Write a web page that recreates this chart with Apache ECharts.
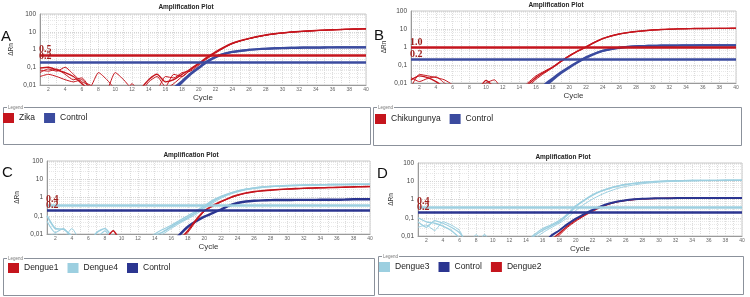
<!DOCTYPE html>
<html>
<head>
<meta charset="UTF-8">
<title>Amplification Plot</title>
<script src="https://cdn.jsdelivr.net/npm/echarts@6/dist/echarts.min.js"></script>
<style>
    html,body{padding:0; margin:0; background:#fff;}
    #main{width:750px; height:297px;}
</style>
</head>
<body>
<div id="main"></div>
<script type="text/javascript">
    // cycle numbers on the x axis
    var cycles = [1,2,3,4,5,6,7,8,9,10,11,12,13,14,15,16,17,18,19,20,
                  21,22,23,24,25,26,27,28,29,30,31,32,33,34,35,36,37,38,39,40];

    // ---- A : Zika ----
    var zikaA1 = [0.09,0.1,0.07,0.05,0.03,0.012,0.005,0.004,0.003,0.004,0.005,0.004,0.006,0.02,0.04,0.015,0.02,0.04,0.08,0.17,
                  0.37,0.74,1.35,2.25,3.2,4.2,5.4,6.6,7.7,8.7,9.6,10.4,11.1,11.8,12.4,13,13.5,14,14.4,14.8];
    var zikaA2 = [0.07,0.06,0.08,0.04,0.02,0.025,0.008,0.05,0.02,0.006,0.004,0.003,0.005,0.008,0.006,0.03,0.025,0.05,0.06,0.13,
                  0.3,0.62,1.2,2.1,3.0,4.0,5.1,6.3,7.4,8.4,9.3,10.1,10.8,11.5,12.1,12.7,13.2,13.7,14.1,14.5];
    var zikaA3 = [0.05,0.08,0.06,0.1,0.04,0.015,0.01,0.004,0.005,0.05,0.02,0.006,0.004,0.015,0.03,0.008,0.04,0.03,0.07,0.15,
                  0.33,0.68,1.28,2.2,3.1,4.1,5.3,6.5,7.6,8.6,9.5,10.3,11,11.7,12.3,12.9,13.4,13.9,14.3,14.7];
    var zikaA4 = [0.03,0.04,0.03,0.02,0.015,0.02,0.006,0.003,0.004,0.003,0.002,0.012,0.004,0.006,0.005,0.006,0.012,0.03,0.07,0.16,
                  0.35,0.7,1.3,2.2,3.1,4.1,5.2,6.4,7.5,8.5,9.4,10.2,10.9,11.6,12.2,12.8,13.3,13.8,14.2,14.6];
    var controlA1 = [null,null,null,null,null,null,null,null,null,null,null,null,null,null,null,0.003,0.007,0.017,0.045,0.1,
                  0.22,0.4,0.58,0.74,0.86,0.97,1.05,1.12,1.18,1.22,1.25,1.28,1.3,1.31,1.32,1.33,1.34,1.35,1.35,1.36];
    var controlA2 = [null,null,null,null,null,null,null,null,null,null,null,null,null,null,null,0.002,0.005,0.014,0.04,0.09,
                  0.2,0.37,0.55,0.72,0.84,0.95,1.03,1.1,1.15,1.19,1.22,1.25,1.27,1.28,1.29,1.3,1.31,1.32,1.32,1.33];
    var thresholdA = [0.5, 0.2];
    var thresholdTextA = ['0.5', '0.2'];

    // ---- B : Chikungunya ----
    var chikB1 = [0.015,0.025,0.02,0.012,0.006,0.004,0.003,0.002,0.004,0.014,0.006,0.003,0.002,0.003,0.008,0.02,0.04,0.075,0.16,0.32,
                  0.6,1.0,1.8,2.9,4.1,5.3,6.3,7.2,8.0,8.8,9.3,9.7,10.1,10.4,10.6,10.7,10.8,10.9,10.9,11.0];
    var chikB2 = [0.006,0.03,0.025,0.02,0.015,0.008,0.004,0.003,0.003,0.008,0.004,0.003,0.003,0.004,0.006,0.016,0.035,0.07,0.15,0.3,
                  0.56,0.95,1.7,2.8,4.0,5.2,6.2,7.1,7.9,8.7,9.2,9.6,10,10.3,10.5,10.6,10.7,10.8,10.8,10.9];
    var chikB3 = [0.02,0.012,0.018,0.022,0.01,0.005,0.003,0.003,0.005,0.01,0.015,0.004,0.003,0.004,0.01,0.025,0.045,0.08,0.17,0.34,
                  0.62,1.05,1.85,3.0,4.2,5.4,6.4,7.3,8.1,8.9,9.4,9.8,10.2,10.5,10.7,10.8,10.9,11,11,11.1];
    var controlB1 = [null,null,null,null,null,null,null,null,null,null,null,null,null,null,null,0.003,0.008,0.018,0.04,0.08,
                  0.15,0.27,0.43,0.62,0.78,0.92,1.02,1.1,1.15,1.18,1.2,1.21,1.22,1.23,1.23,1.24,1.24,1.25,1.25,1.25];
    var controlB2 = [null,null,null,null,null,null,null,null,null,null,null,null,null,null,null,0.002,0.006,0.015,0.035,0.072,
                  0.14,0.25,0.41,0.6,0.76,0.9,1.0,1.08,1.13,1.16,1.18,1.2,1.21,1.22,1.22,1.23,1.23,1.24,1.24,1.24];
    var thresholdB = [1.0, 0.2];
    var thresholdTextB = ['1.0', '0.2'];

    // ---- C : Dengue1 / Dengue4 ----
    var d1C1 = [null,null,null,null,null,null,null,0.004,0.015,0.004,null,null,null,null,null,0.002,0.005,0.015,0.06,0.19,
                0.36,0.6,0.95,1.35,1.75,2.1,2.35,2.55,2.75,2.9,3.05,3.2,3.3,3.4,3.5,3.6,3.7,3.8,3.9,4.0];
    var d1C2 = [null,null,null,null,null,null,null,null,null,null,null,null,null,null,null,0.002,0.004,0.012,0.05,0.17,
                0.33,0.56,0.9,1.3,1.7,2.05,2.3,2.5,2.7,2.85,3.0,3.15,3.25,3.35,3.45,3.55,3.65,3.75,3.85,3.95];
    var d4C1 = [0.1,0.02,0.018,0.008,0.004,0.003,0.012,0.02,0.006,0.003,0.002,0.003,0.004,0.008,0.013,0.025,0.045,0.08,0.15,0.3,
                0.6,1.05,1.6,2.2,2.8,3.3,3.7,4.0,4.25,4.45,4.6,4.75,4.85,4.95,5.05,5.1,5.2,5.25,5.3,5.4];
    var d4C2 = [0.05,0.012,0.02,0.006,0.003,0.002,0.006,0.015,0.004,0.002,0.003,0.003,0.005,0.01,0.018,0.03,0.055,0.1,0.18,0.36,
                0.7,1.15,1.7,2.3,2.9,3.4,3.8,4.1,4.35,4.55,4.7,4.85,4.95,5.05,5.15,5.2,5.3,5.35,5.4,5.5];
    var d4C3 = [0.008,0.01,0.006,0.02,0.004,0.002,0.003,0.004,0.003,0.002,0.002,0.003,0.004,0.006,0.01,0.02,0.038,0.068,0.12,0.25,
                0.5,0.9,1.45,2.0,2.6,3.1,3.5,3.85,4.1,4.3,4.45,4.6,4.7,4.8,4.9,4.95,5.0,5.05,5.1,5.2];
    var controlC = [null,null,null,null,null,null,null,null,null,null,null,null,null,null,null,0.003,0.009,0.025,0.05,0.09,
                0.14,0.22,0.36,0.5,0.6,0.66,0.7,0.72,0.73,0.73,0.74,0.74,0.74,0.75,0.75,0.75,0.77,0.8,0.8,0.8];
    var thresholdC = [0.4, 0.2];
    var thresholdTextC = ['0.4', '0.2'];

    // ---- D : Dengue3 / Dengue2 ----
    var d3D1 = [0.1,0.06,0.05,0.035,0.02,0.008,0.003,0.003,0.003,0.002,0.002,0.003,0.003,0.004,0.01,0.02,0.035,0.06,0.14,0.42,
                0.9,1.7,2.8,4.0,5.3,6.6,7.6,8.5,9.3,9.9,10.3,10.6,10.8,11.0,11.1,11.2,11.2,11.3,11.3,11.4];
    var d3D2 = [0.06,0.03,0.07,0.05,0.03,0.015,0.004,0.003,0.012,0.003,0.002,0.002,0.003,0.005,0.012,0.025,0.04,0.07,0.16,0.45,
                0.95,1.8,2.9,4.1,5.4,6.7,7.7,8.6,9.4,10,10.4,10.7,10.9,11.1,11.2,11.3,11.3,11.4,11.4,11.5];
    var d3D3 = [0.03,0.04,0.02,0.06,0.04,0.02,0.003,0.012,0.003,0.002,0.002,0.003,0.003,0.004,0.007,0.015,0.028,0.05,0.1,0.25,
                0.55,1.05,1.8,2.8,4.0,5.2,6.3,7.3,8.2,8.9,9.5,9.9,10.2,10.4,10.6,10.7,10.8,10.9,11,11];
    var controlD = [null,null,null,null,null,null,null,null,null,null,null,null,null,null,null,0.003,0.01,0.02,0.045,0.09,
                0.16,0.27,0.42,0.6,0.78,0.92,1.02,1.1,1.14,1.17,1.18,1.19,1.2,1.2,1.21,1.21,1.22,1.22,1.22,1.22];
    var d2D1 = [null,null,null,null,null,null,null,null,null,null,null,null,null,null,null,0.002,0.006,0.014,0.035,0.075,
                0.14,0.25,0.4,0.58,0.76,0.9,1.0,1.08,1.12,1.15,1.16,1.17,1.18,1.18,1.19,1.19,1.2,1.2,1.2,1.2];
    var d2D2 = [null,null,null,null,null,null,null,null,null,null,null,null,null,null,null,0.002,0.004,0.011,0.03,0.065,
                0.125,0.22,0.37,0.55,0.73,0.88,0.99,1.07,1.11,1.14,1.15,1.16,1.17,1.17,1.18,1.18,1.19,1.19,1.19,1.19];
    var thresholdD = [0.4, 0.2];
    var thresholdTextD = ['0.4', '0.2'];

    var RED = '#c5151d', BLUE = '#3b4b9f', NAVY = '#2b3590', LIGHT = '#9ccfe0', LABEL = '#9e1f1c';
    var FONT = '"Liberation Sans", Arial, sans-serif';

    var grids = [
        {left: 40, top: 14, width: 326, height: 71},
        {left: 411, top: 11, width: 325, height: 72},
        {left: 47, top: 161, width: 323, height: 73},
        {left: 418, top: 163, width: 324, height: 73}
    ];
    var yNameGap = [25, 23, 26, 23];

    function pts(vals) {
        return cycles.map(function (c, i) { return [c, vals[i]]; })
                     .filter(function (p) { return p[1] != null; });
    }

    function curve(name, vals, color, width, panel) {
        return {
            type: 'line', name: name, xAxisIndex: panel, yAxisIndex: panel,
            data: pts(vals), showSymbol: false, symbol: 'none', smooth: 0.2, clip: true,
            lineStyle: {color: color, width: width}, itemStyle: {color: color},
            emphasis: {disabled: true}, silent: true, animation: false
        };
    }

    function threshold(s, value, text, color) {
        s.markLine = {
            silent: true, symbol: 'none', animation: false,
            lineStyle: {color: color, width: 2.5, type: 'solid'},
            label: {
                position: 'insideStartTop', distance: [-1, 0], formatter: text,
                color: LABEL, fontFamily: '"Liberation Serif", serif', fontSize: 10, fontWeight: 'bold'
            },
            data: [{yAxis: value}]
        };
        return s;
    }

    var series = [
        curve('Zika', zikaA4, RED, 1, 0),
        curve('Zika', zikaA3, RED, 1, 0),
        curve('Zika', zikaA2, RED, 1, 0),
        threshold(curve('Zika', zikaA1, RED, 1.4, 0), thresholdA[0], thresholdTextA[0], RED),
        curve('Control', controlA2, BLUE, 2.2, 0),
        threshold(curve('Control', controlA1, BLUE, 2, 0), thresholdA[1], thresholdTextA[1], BLUE),

        curve('Chikungunya', chikB3, RED, 1, 1),
        curve('Chikungunya', chikB2, RED, 1, 1),
        threshold(curve('Chikungunya', chikB1, RED, 1.4, 1), thresholdB[0], thresholdTextB[0], RED),
        curve('Control', controlB2, BLUE, 2.2, 1),
        threshold(curve('Control', controlB1, BLUE, 2, 1), thresholdB[1], thresholdTextB[1], BLUE),

        curve('Dengue4', d4C3, LIGHT, 1, 2),
        curve('Dengue4', d4C2, LIGHT, 1.2, 2),
        threshold(curve('Dengue4', d4C1, LIGHT, 1.6, 2), thresholdC[0], thresholdTextC[0], LIGHT),
        curve('Control', controlC, NAVY, 2.4, 2),
        curve('Dengue1', d1C2, RED, 1, 2),
        threshold(curve('Dengue1', d1C1, RED, 1.6, 2), thresholdC[1], thresholdTextC[1], NAVY),

        curve('Dengue3', d3D3, LIGHT, 1, 3),
        curve('Dengue3', d3D2, LIGHT, 1.2, 3),
        threshold(curve('Dengue3', d3D1, LIGHT, 1.4, 3), thresholdD[0], thresholdTextD[0], LIGHT),
        curve('Dengue2', d2D2, RED, 1, 3),
        curve('Dengue2', d2D1, RED, 1.4, 3),
        threshold(curve('Control', controlD, NAVY, 2, 3), thresholdD[1], thresholdTextD[1], NAVY)
    ];

    var xAxes = grids.map(function (g, i) {
        return {
            type: 'value', gridIndex: i, min: 1, max: 40, interval: 1,
            name: 'Cycle', nameLocation: 'middle', nameGap: 9,
            nameTextStyle: {fontSize: 8, color: '#333', fontFamily: FONT},
            axisLine: {lineStyle: {color: '#9a9a9a'}}, axisTick: {show: false},
            axisLabel: {
                fontSize: 5, color: '#666', margin: 2.5, fontFamily: FONT,
                formatter: function (v) { return v % 2 === 0 ? String(v) : ''; }
            },
            splitLine: {show: true, lineStyle: {color: '#dcdcdc', type: 'dotted'}}
        };
    });

    var yAxes = grids.map(function (g, i) {
        return {
            type: 'log', logBase: 10, gridIndex: i, min: 0.01, max: 100,
            name: 'ΔRn', nameLocation: 'middle', nameRotate: 90, nameGap: yNameGap[i],
            nameTextStyle: {fontSize: 6.5, color: '#333', fontFamily: FONT},
            axisLine: {show: true, lineStyle: {color: '#9a9a9a'}}, axisTick: {show: false},
            axisLabel: {
                fontSize: 6.5, color: '#444', margin: 4, fontFamily: FONT,
                formatter: function (v) { return String(+(+v).toPrecision(2)).replace('.', ','); }
            },
            splitLine: {show: true, lineStyle: {color: '#d4d4d4', type: 'dotted'}},
            minorSplitLine: {show: true, lineStyle: {color: '#e8e8e8', type: 'dotted'}}
        };
    });

    var legendBase = {
        orient: 'horizontal', padding: 0, itemWidth: 11, itemHeight: 10, itemGap: 9,
        icon: 'rect', selectedMode: false,
        textStyle: {fontSize: 8.5, color: '#222', fontFamily: FONT}
    };
    function legendAt(left, top, items) {
        var l = Object.assign({}, legendBase, {left: left, top: top});
        l.data = items.map(function (it) {
            return {name: it[0], itemStyle: {color: it[1]}};
        });
        return l;
    }

    // plot titles, panel letters, legend frames
    var graphics = [];
    [[186, 7], [556, 5.5], [191, 155.5], [563, 157.5]].forEach(function (p) {
        graphics.push({type: 'text', x: p[0], y: p[1], silent: true, style: {
            text: 'Amplification Plot', fill: '#222', font: 'bold 6.5px ' + FONT,
            align: 'center', verticalAlign: 'middle'}});
    });
    [['A', 1, 37], ['B', 374, 36], ['C', 2, 173], ['D', 377, 174]].forEach(function (p) {
        graphics.push({type: 'text', x: p[1], y: p[2], silent: true, style: {
            text: p[0], fill: '#111', font: '15px ' + FONT, align: 'left', verticalAlign: 'middle'}});
    });
    [[3, 107, 367, 37], [373, 107, 368, 38], [3, 258, 371, 37], [378, 256, 365, 38]].forEach(function (b) {
        graphics.push({type: 'rect', silent: true, shape: {x: b[0] + 0.5, y: b[1] + 0.5, width: b[2], height: b[3]},
            style: {fill: 'none', stroke: '#8b919b', lineWidth: 1}});
        graphics.push({type: 'rect', silent: true, shape: {x: b[0] + 4, y: b[1] - 2, width: 17, height: 5},
            style: {fill: '#fff'}});
        graphics.push({type: 'text', x: b[0] + 5, y: b[1] + 0.5, silent: true, style: {
            text: 'Legend', fill: '#777', font: '4.5px ' + FONT, align: 'left', verticalAlign: 'middle'}});
    });

    var myChart = echarts.init(document.getElementById('main'), null, {renderer: 'canvas'});
    var option = {
        backgroundColor: '#fff',
        animation: false,
        grid: grids.map(function (g) {
            return Object.assign({show: true, borderColor: '#c8c8c8', borderWidth: 1, backgroundColor: '#fff'}, g);
        }),
        xAxis: xAxes,
        yAxis: yAxes,
        legend: [
            legendAt(3, 113, [['Zika', RED], ['Control', BLUE]]),
            legendAt(375, 114, [['Chikungunya', RED], ['Control', BLUE]]),
            legendAt(8, 263, [['Dengue1', RED], ['Dengue4', LIGHT], ['Control', NAVY]]),
            legendAt(379, 262, [['Dengue3', LIGHT], ['Control', NAVY], ['Dengue2', RED]])
        ],
        graphic: graphics,
        series: series
    };
    myChart.setOption(option);
</script>
</body>
</html>
